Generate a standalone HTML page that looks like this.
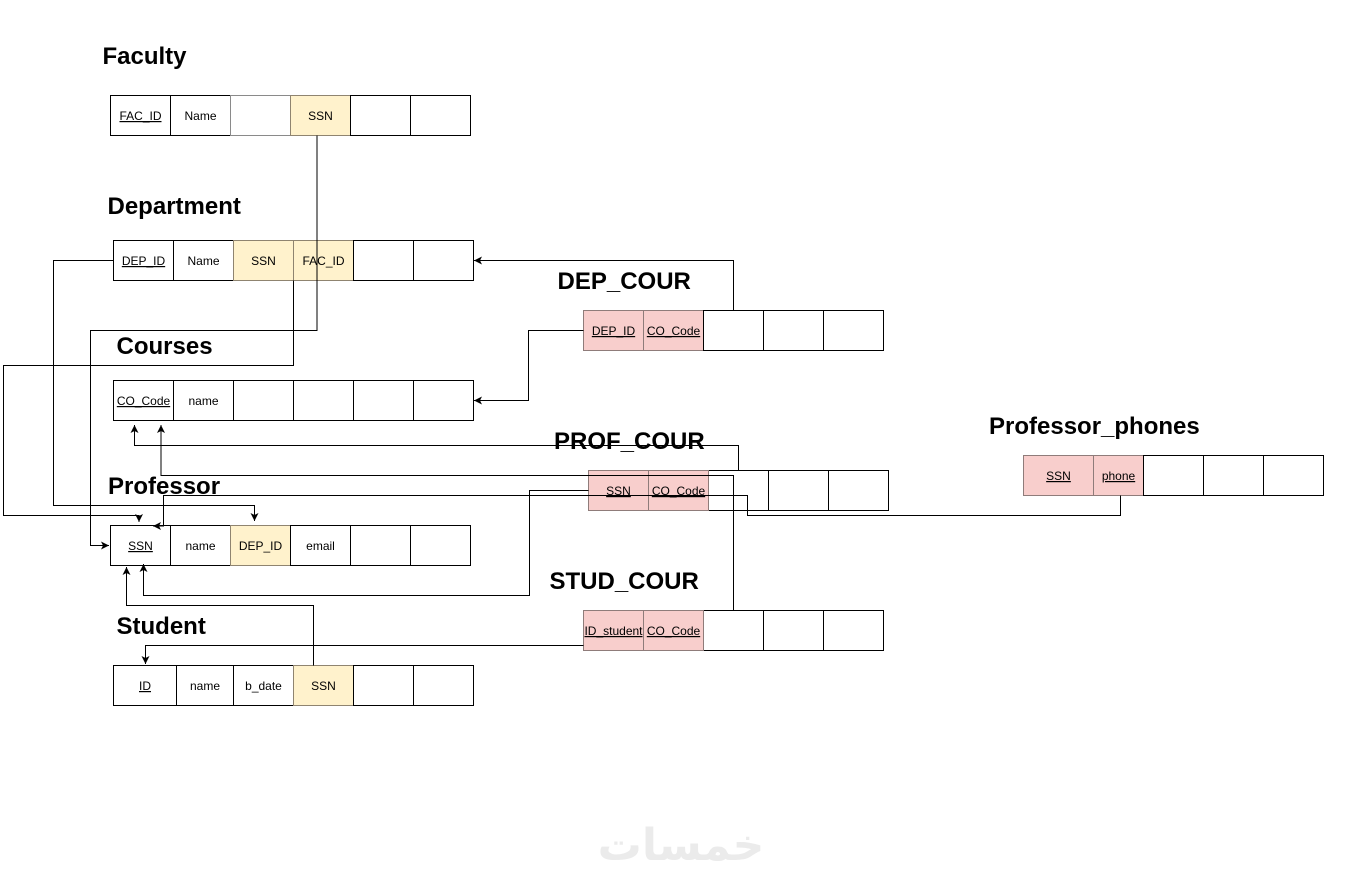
<!DOCTYPE html>
<html><head><meta charset="utf-8"><title>Relational schema diagram</title>
<style>
html,body{margin:0;padding:0;background:#fff;width:1361px;height:880px;overflow:hidden}
svg{display:block}
text{font-family:"Liberation Sans",sans-serif;fill:#000}
.c text,text.c{font-size:12px;text-anchor:middle}
.u{text-decoration:underline}
.t{font-size:24px;font-weight:bold}
rect{fill:#fff;stroke:#000;stroke-width:1}
rect.y{fill:#fff2cc;stroke:#8f8470}
rect.p{fill:#f8cecc;stroke:#8f7c7a}
rect.g{stroke:#8a8a8a}
path.l{fill:none;stroke:#000;stroke-width:1}
</style></head><body>
<svg width="1361" height="880" viewBox="0 0 1361 880" xmlns="http://www.w3.org/2000/svg">
<defs><marker id="a" markerUnits="userSpaceOnUse" markerWidth="12" markerHeight="12" refX="10" refY="6" orient="auto"><path d="M10 6L2 2L4 6L2 10Z" fill="#000"/></marker></defs>

<!-- Faculty -->
<rect x="110.5" y="95.5" width="60" height="40"/><rect x="170.5" y="95.5" width="60" height="40"/><rect class="g" x="230.5" y="95.5" width="60" height="40"/><rect class="y" x="290.5" y="95.5" width="60" height="40"/><rect x="350.5" y="95.5" width="60" height="40"/><rect x="410.5" y="95.5" width="60" height="40"/>
<!-- Department -->
<rect x="113.5" y="240.5" width="60" height="40"/><rect x="173.5" y="240.5" width="60" height="40"/><rect class="y" x="233.5" y="240.5" width="60" height="40"/><rect class="y" x="293.5" y="240.5" width="60" height="40"/><rect x="353.5" y="240.5" width="60" height="40"/><rect x="413.5" y="240.5" width="60" height="40"/>
<!-- Courses -->
<rect x="113.5" y="380.5" width="60" height="40"/><rect x="173.5" y="380.5" width="60" height="40"/><rect x="233.5" y="380.5" width="60" height="40"/><rect x="293.5" y="380.5" width="60" height="40"/><rect x="353.5" y="380.5" width="60" height="40"/><rect x="413.5" y="380.5" width="60" height="40"/>
<!-- Professor -->
<rect x="110.5" y="525.5" width="60" height="40"/><rect x="170.5" y="525.5" width="60" height="40"/><rect class="y" x="230.5" y="525.5" width="60" height="40"/><rect x="290.5" y="525.5" width="60" height="40"/><rect x="350.5" y="525.5" width="60" height="40"/><rect x="410.5" y="525.5" width="60" height="40"/>
<!-- Student -->
<rect x="113.5" y="665.5" width="63" height="40"/><rect x="176.5" y="665.5" width="57" height="40"/><rect x="233.5" y="665.5" width="60" height="40"/><rect class="y" x="293.5" y="665.5" width="60" height="40"/><rect x="353.5" y="665.5" width="60" height="40"/><rect x="413.5" y="665.5" width="60" height="40"/>
<!-- DEP_COUR -->
<rect class="p" x="583.5" y="310.5" width="60" height="40"/><rect class="p" x="643.5" y="310.5" width="60" height="40"/><rect x="703.5" y="310.5" width="60" height="40"/><rect x="763.5" y="310.5" width="60" height="40"/><rect x="823.5" y="310.5" width="60" height="40"/>
<!-- PROF_COUR -->
<rect x="708.5" y="470.5" width="60" height="40"/><rect x="768.5" y="470.5" width="60" height="40"/><rect x="828.5" y="470.5" width="60" height="40"/><rect class="p" x="588.5" y="470.5" width="60" height="40"/><rect class="p" x="648.5" y="470.5" width="60" height="40"/>
<!-- STUD_COUR -->
<rect x="703.5" y="610.5" width="60" height="40"/><rect x="763.5" y="610.5" width="60" height="40"/><rect x="823.5" y="610.5" width="60" height="40"/><rect class="p" x="583.5" y="610.5" width="60" height="40"/><rect class="p" x="643.5" y="610.5" width="60" height="40"/>
<!-- Professor_phones -->
<rect class="p" x="1023.5" y="455.5" width="70" height="40"/><rect class="p" x="1093.5" y="455.5" width="50" height="40"/><rect x="1143.5" y="455.5" width="60" height="40"/><rect x="1203.5" y="455.5" width="60" height="40"/><rect x="1263.5" y="455.5" width="60" height="40"/>

<!-- Connectors -->
<path class="l" d="M317 135.5V330.5H90.5V545.5H109" marker-end="url(#a)"/>
<path class="l" d="M293.5 280.5V365.5H3.5V515.5H139V522" marker-end="url(#a)"/>
<path class="l" d="M113.5 260.5H53.5V505.5H254.5V521" marker-end="url(#a)"/>
<path class="l" d="M733.5 310.5V260.5H474" marker-end="url(#a)"/>
<path class="l" d="M583.5 330.5H528.5V400.5H474" marker-end="url(#a)"/>
<path class="l" d="M738.5 470.5V445.5H134.5V425" marker-end="url(#a)"/>
<path class="l" d="M733.5 610.5V475.5H161V425" marker-end="url(#a)"/>
<path class="l" d="M1120.5 495.5V515.5H747.5V495.5H163.5V526H153" marker-end="url(#a)"/>
<path class="l" d="M588.5 490.5H529.5V595.5H143.5V564" marker-end="url(#a)"/>
<path class="l" d="M313.5 665.5V605.5H126.5V567" marker-end="url(#a)"/>
<path class="l" d="M583.5 645.5H145.5V664" marker-end="url(#a)"/>

<!-- Cell labels -->
<g class="c">
<text x="140.5" y="120" class="u">FAC_ID</text><text x="200.5" y="120">Name</text><text x="320.5" y="120">SSN</text>
<text x="143.5" y="265" class="u">DEP_ID</text><text x="203.5" y="265">Name</text><text x="263.5" y="265">SSN</text><text x="323.5" y="265">FAC_ID</text>
<text x="143.5" y="405" class="u">CO_Code</text><text x="203.5" y="405">name</text>
<text x="140.5" y="550" class="u">SSN</text><text x="200.5" y="550">name</text><text x="260.5" y="550">DEP_ID</text><text x="320.5" y="550">email</text>
<text x="145" y="690" class="u">ID</text><text x="205" y="690">name</text><text x="263.5" y="690">b_date</text><text x="323.5" y="690">SSN</text>
<text x="613.5" y="335" class="u">DEP_ID</text><text x="673.5" y="335" class="u">CO_Code</text>
<text x="618.5" y="495" class="u">SSN</text><text x="678.5" y="495" class="u">CO_Code</text>
<text x="613.5" y="635" class="u">ID_student</text><text x="673.5" y="635" class="u">CO_Code</text>
<text x="1058.5" y="480" class="u">SSN</text><text x="1118.5" y="480" class="u">phone</text>
</g>

<!-- Titles -->
<text class="t" x="102.5" y="64">Faculty</text>
<text class="t" x="107.5" y="214">Department</text>
<text class="t" x="116.5" y="354">Courses</text>
<text class="t" x="108" y="494">Professor</text>
<text class="t" x="116.5" y="634">Student</text>
<text class="t" x="557.5" y="289">DEP_COUR</text>
<text class="t" x="554" y="449">PROF_COUR</text>
<text class="t" x="549.5" y="589">STUD_COUR</text>
<text class="t" x="989" y="434">Professor_phones</text>

<!-- Watermark -->
<text x="681" y="860" text-anchor="middle" direction="rtl" style="font-family:'DejaVu Sans',sans-serif;font-size:44px;font-weight:bold;fill:#ebebeb">خمسات</text>
</svg>
</body></html>
